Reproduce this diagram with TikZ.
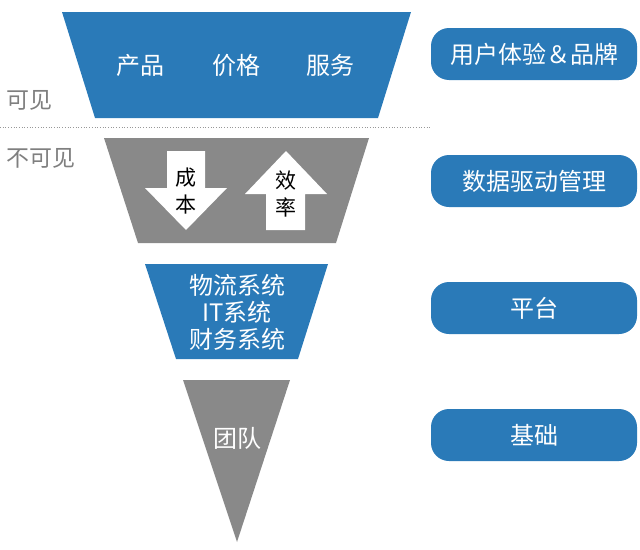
\documentclass[tikz,border=0pt]{standalone}
\usepackage{fontspec}
\setmainfont{Noto Sans CJK SC}
\definecolor{bblue}{HTML}{2A7AB8}
\definecolor{ggray}{HTML}{898989}
\definecolor{lbl}{HTML}{7F7F7F}
\begin{document}
\begin{tikzpicture}[x=1pt,y=-1pt,
  wtext/.style={text=white,font=\fontsize{24}{27}\selectfont,inner sep=0pt,align=center},
  ktext/.style={text=black,font=\fontsize{21}{27}\selectfont,inner sep=0pt,align=center},
  side/.style={text=lbl,font=\fontsize{23}{26}\selectfont,inner sep=0pt},
  pill/.style={fill=bblue,rounded corners=18pt,minimum width=206pt,minimum height=52pt,text=white,font=\fontsize{24}{27}\selectfont,inner sep=0pt}]
\useasboundingbox (0,0) rectangle (640,549);
% level 1
\fill[bblue] (62,12) -- (411,12) -- (378,118) -- (95,118) -- cycle;
\node[wtext] (p1) at (140,65) {产品};
\node[wtext] (p2) at (236,65) {价格};
\node[wtext] (p3) at (330,65) {服务};
% visible / invisible
\node[side] (vis) at (29,100) {可见};
\node[side] (invis) at (41,158) {不可见};
\coordinate (dl) at (0,127);
\coordinate (dr) at (430,127);
\draw[lbl!80,line width=0.7pt,dotted] (dl) -- (dr);
% level 2
\fill[ggray] (104,138) -- (369,138) -- (336,243) -- (138,243) -- cycle;
\fill[white] (167,151) -- (205,151) -- (205,188) -- (227,188) -- (186,230) -- (145,188) -- (167,188) -- cycle;
\fill[white] (286,151) -- (327,194) -- (305,194) -- (305,230) -- (266,230) -- (266,194) -- (245,194) -- cycle;
\node[ktext] (cb) at (186,191) {成\\本};
\node[ktext] (xl) at (286,194) {效\\率};
% level 3
\fill[bblue] (145,264) -- (328,264) -- (298,359) -- (176,359) -- cycle;
\node[wtext] (sys) at (237,312) {物流系统\\IT系统\\财务系统};
% level 4
\fill[ggray] (183,380) -- (290,380) -- (237,542) -- cycle;
\node[wtext] (team) at (237,438) {团队};
% right pills
\node[pill] (b1) at (534,54) {用户体验＆品牌};
\node[pill] (b2) at (534,181) {数据驱动管理};
\node[pill] (b3) at (534,308) {平台};
\node[pill] (b4) at (534,435) {基础};
\end{tikzpicture}
\end{document}
